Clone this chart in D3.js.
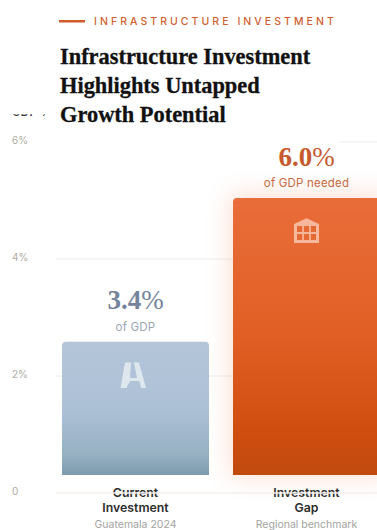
<!DOCTYPE html>
<html>
<head>
<meta charset="utf-8">
<script src="https://cdn.jsdelivr.net/npm/d3@7"></script>
<style>
  html, body { margin: 0; padding: 0; background: #ffffff; overflow: hidden; }
  svg { display: block; }
</style>
</head>
<body>
<svg id="chart" width="377" height="530"></svg>
<script>
// Chart content
const eyebrow = "INFRASTRUCTURE INVESTMENT";
const titleLines = ["Infrastructure Investment", "Highlights Untapped", "Growth Potential"];
const tickValues = [0, 2, 4, 6];
const tickLabels = ["0", "2%", "4%", "6%"];
const categories = ["current", "gap"];
const values = [3.4, 6.0];
const valueNumbers = ["3.4", "6.0"];
const valueNotes = ["of GDP", "of GDP needed"];
const nameFirstLines = ["Current", "Investment"];
const nameSecondLines = ["Investment", "Gap"];
const nameNotes = ["Guatemala 2024", "Regional benchmark"];

const svg = d3.select("#chart");
const sans = "'Inter', 'Noto Sans', sans-serif";
const serif = "'Liberation Serif', serif";

// Scales: the axis runs 0-6% and the bars stand on a floor above the zero line
const yAxis = d3.scaleLinear().domain([0, 6]).range([493, 142]);
const yBar = d3.scaleLinear().domain([0, 6]).range([530, 198]);
const barFloor = 475;
const x = d3.scaleBand().domain(categories).range([62, 404]);
const barWidth = 147;
const barLeft = d => x(d);
const barCentre = d => x(d) + barWidth / 2;
const barTop = d => yBar(values[categories.indexOf(d)]);
const colourFor = { current: "url(#barCurrent)", gap: "url(#barGap)" };

const defs = svg.append("defs");

function verticalGradient(id, stops) {
  const g = defs.append("linearGradient").attr("id", id)
    .attr("x1", 0).attr("x2", 0).attr("y1", 0).attr("y2", 1);
  stops.forEach(([o, c]) => g.append("stop").attr("offset", o).attr("stop-color", c));
}
verticalGradient("barCurrent", [[0, "#b4c5d9"], [0.5, "#adc1d6"], [0.85, "#96b0c2"], [1, "#7e9bae"]]);
verticalGradient("barGap", [[0, "#e96d3a"], [0.5, "#e15f24"], [0.85, "#cf4d0e"], [1, "#c04a10"]]);

defs.append("filter").attr("id", "glow")
  .attr("x", "-40%").attr("y", "-30%").attr("width", "180%").attr("height", "160%")
  .append("feGaussianBlur").attr("stdDeviation", 12);

// Clipped remnant of a heading that sits beside the title
defs.append("clipPath").attr("id", "stubClip")
  .append("rect").attr("x", 0).attr("y", 114.2).attr("width", 46).attr("height", 2.2);

svg.append("text")
  .attr("x", 12).attr("y", 116)
  .attr("clip-path", "url(#stubClip)")
  .attr("font-family", sans).attr("font-size", 11).attr("font-weight", 600)
  .attr("letter-spacing", 0.6).attr("fill", "#333")
  .text("GDP %");

// Eyebrow rule and label
svg.append("rect").attr("x", 59).attr("y", 20).attr("width", 26).attr("height", 2.5).attr("fill", "#cf5a2a");
svg.append("text")
  .attr("x", 94).attr("y", 25)
  .attr("font-family", sans).attr("font-size", 10.5).attr("font-weight", 500)
  .attr("letter-spacing", 3.05).attr("fill", "#cf5f30")
  .text(eyebrow);

// Title
svg.append("g").selectAll("text").data(titleLines).join("text")
  .attr("x", 60).attr("y", (d, i) => 64 + i * 28.8)
  .attr("font-family", serif).attr("font-size", 22.4).attr("font-weight", 700)
  .attr("fill", "#111").attr("stroke", "#111").attr("stroke-width", 0.3)
  .text(d => d);

// Gridlines above zero; the top one only shows on the right of the plot
svg.append("g").selectAll("line").data(tickValues.filter(d => d > 0)).join("line")
  .attr("x1", d => d === 6 ? 340 : 56).attr("x2", 377)
  .attr("y1", d => yAxis(d)).attr("y2", d => yAxis(d))
  .attr("stroke", "#f0ece8").attr("stroke-width", 1);

// Axis tick labels
svg.append("g").selectAll("text").data(tickValues).join("text")
  .attr("x", 12).attr("y", d => yAxis(d) + 1.5)
  .attr("font-family", sans).attr("font-size", 10)
  .attr("fill", "#aeaba4")
  .text((d, i) => tickLabels[i]);

// Soft halo behind the taller bar
svg.append("rect")
  .attr("x", barLeft("gap") - 3).attr("y", yBar(6) - 4)
  .attr("width", barWidth + 10).attr("height", barFloor - yBar(6) + 6)
  .attr("fill", "#e9703c").attr("opacity", 0.22).attr("filter", "url(#glow)");

// Bars with rounded top corners
const barPath = d => {
  const l = barLeft(d), r = l + barWidth, t = barTop(d), q = 4;
  return `M${l},${barFloor}V${t + q}Q${l},${t} ${l + q},${t}H${r - q}Q${r},${t} ${r},${t + q}V${barFloor}Z`;
};
svg.append("g").selectAll("path").data(categories).join("path")
  .attr("d", barPath)
  .attr("fill", d => colourFor[d]);

// Road icon on the current-investment bar
svg.append("path").attr("fill", "#dfe7ee")
  .attr("d", "M125,362.5H131L130,378H137L134,362.5H139L146,388H141L139.5,381H130L126.5,388H120.5Z");

// Bank icon on the gap bar: roofed block with six window panes
svg.append("path").attr("fill", "#f6b79b")
  .attr("d", "M294,224L306.5,218.3L319,224V243H294Z");
const paneColumns = [297, 303.9, 310.8];
const paneRows = [226, 234];
svg.append("g").attr("fill", "#e56a35").selectAll("rect")
  .data(d3.cross(paneColumns, paneRows)).join("rect")
  .attr("x", d => d[0]).attr("y", d => d[1])
  .attr("width", 5.2).attr("height", 6);

// Value labels and notes above each bar
const valueText = svg.append("g").selectAll("text").data(categories).join("text")
  .attr("x", barCentre).attr("y", d => barTop(d) - 32.5)
  .attr("text-anchor", "middle")
  .attr("font-family", serif).attr("font-size", 27)
  .attr("fill", d => d === "gap" ? "#c65a2e" : "#75849a");
valueText.append("tspan").attr("font-weight", 700).text((d, i) => valueNumbers[i]);
valueText.append("tspan").attr("font-weight", 400).text("%");

svg.append("g").selectAll("text").data(categories).join("text")
  .attr("x", barCentre).attr("y", d => barTop(d) - 11)
  .attr("text-anchor", "middle")
  .attr("font-family", sans).attr("font-size", 11.5).attr("letter-spacing", 0.2)
  .attr("fill", d => d === "gap" ? "#c66a42" : "#9aa6b4")
  .text((d, i) => valueNotes[i]);

// Category names and notes under the bars
const nameLines = [nameFirstLines, nameSecondLines];
const nameG = svg.append("g");
nameG.selectAll("text.first").data(categories).join("text").attr("class", "first")
  .attr("x", barCentre).attr("y", 496.5)
  .attr("text-anchor", "middle")
  .attr("font-family", sans).attr("font-size", 12.3).attr("font-weight", 600)
  .attr("fill", "#2c2c2c")
  .text((d, i) => nameLines[i][0]);
nameG.selectAll("text.second").data(categories).join("text").attr("class", "second")
  .attr("x", barCentre).attr("y", 512)
  .attr("text-anchor", "middle")
  .attr("font-family", sans).attr("font-size", 12.3).attr("font-weight", 600)
  .attr("fill", "#2c2c2c")
  .text((d, i) => nameLines[i][1]);
svg.append("g").selectAll("text").data(categories).join("text")
  .attr("x", barCentre).attr("y", 528)
  .attr("text-anchor", "middle")
  .attr("font-family", sans).attr("font-size", 10.5)
  .attr("fill", "#a3a3a0")
  .text((d, i) => nameNotes[i]);

// Zero line crosses in front of the first row of category names
svg.append("line")
  .attr("x1", 56).attr("x2", 377)
  .attr("y1", yAxis(0)).attr("y2", yAxis(0))
  .attr("stroke", "#f3efeb").attr("stroke-width", 1.4);
</script>
</body>
</html>
